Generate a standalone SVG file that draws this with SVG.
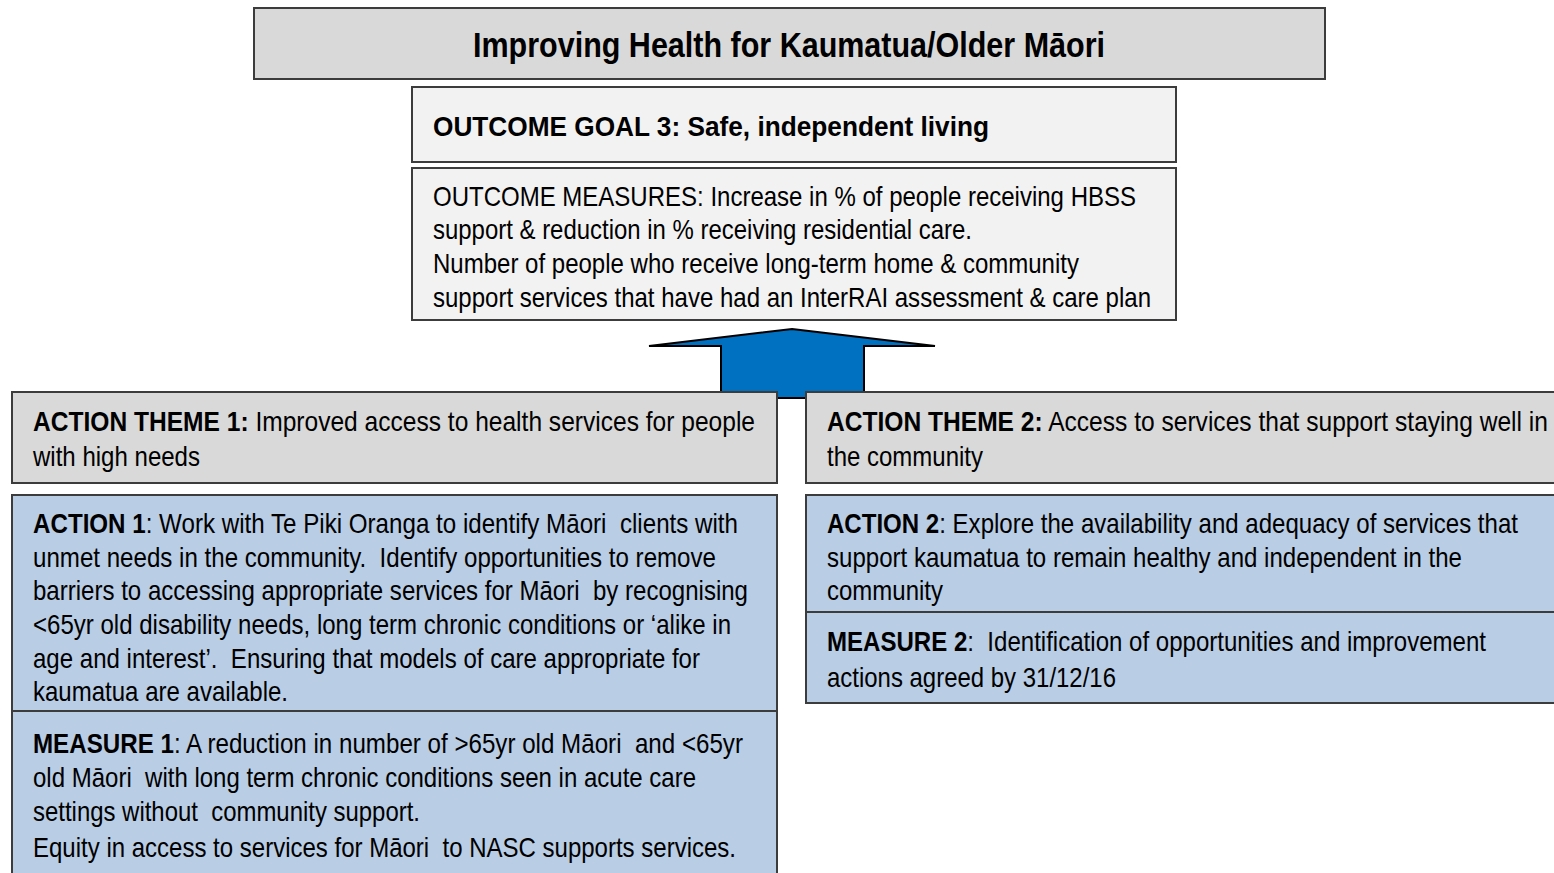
<svg xmlns="http://www.w3.org/2000/svg" width="1554" height="873" viewBox="0 0 1554 873">
  <style>
    .box { stroke: #3c3c3c; stroke-width: 2; }
    .grey { fill: #d9d9d9; }
    .pale { fill: #f2f2f2; }
    .blue { fill: #b9cde5; }
    text { font-family: "Liberation Sans Narrow", "Liberation Sans", Arial, sans-serif; fill: #000; font-size: 28px; white-space: pre; }
    .b { font-weight: bold; }
    .title { font-size: 35px; font-weight: bold; }
  </style>
  <rect width="1554" height="873" fill="#ffffff"/>

  <!-- upward arrow linking the action themes to the outcome goal -->
  <g id="connectors">
    <polygon points="792,329 935,346 864,346 864,398 721,398 721,346 649,346" fill="#0070c0" stroke="#000" stroke-width="2" stroke-linejoin="miter"/>
  </g>

  <g id="title">
    <rect class="box grey" x="254" y="8" width="1071" height="71"/>
    <text class="title" x="473" y="57" textLength="632" lengthAdjust="spacingAndGlyphs">Improving Health for Kaumatua/Older Māori</text>
  </g>

  <g id="outcome-goal">
    <rect class="box pale" x="412" y="87" width="764" height="75"/>
    <text class="b" x="433" y="136" textLength="556" lengthAdjust="spacingAndGlyphs">OUTCOME GOAL 3: Safe, independent living</text>
  </g>

  <g id="outcome-measures">
    <rect class="box pale" x="412" y="168" width="764" height="152"/>
    <text x="433" y="206" textLength="703" lengthAdjust="spacingAndGlyphs">OUTCOME MEASURES: Increase in % of people receiving HBSS</text>
    <text x="433" y="239" textLength="539" lengthAdjust="spacingAndGlyphs">support &amp; reduction in % receiving residential care.</text>
    <text x="433" y="273" textLength="646" lengthAdjust="spacingAndGlyphs">Number of people who receive long-term home &amp; community</text>
    <text x="433" y="307" textLength="718" lengthAdjust="spacingAndGlyphs">support services that have had an InterRAI assessment &amp; care plan</text>
  </g>

  <g id="action-theme-1">
    <rect class="box grey" x="12" y="392" width="765" height="91"/>
    <text x="33" y="431" textLength="722" lengthAdjust="spacingAndGlyphs"><tspan class="b">ACTION THEME 1:</tspan> Improved access to health services for people</text>
    <text x="33" y="466" textLength="167" lengthAdjust="spacingAndGlyphs">with high needs</text>
  </g>

  <g id="action-theme-2">
    <rect class="box grey" x="806" y="392" width="760" height="91"/>
    <text x="827" y="431" textLength="721" lengthAdjust="spacingAndGlyphs"><tspan class="b">ACTION THEME 2:</tspan> Access to services that support staying well in</text>
    <text x="827" y="466" textLength="156" lengthAdjust="spacingAndGlyphs">the community</text>
  </g>

  <g id="action-1">
    <rect class="box blue" x="12" y="495" width="765" height="216"/>
    <text x="33" y="533" textLength="705" lengthAdjust="spacingAndGlyphs"><tspan class="b">ACTION 1</tspan>: Work with Te Piki Oranga to identify Māori  clients with</text>
    <text x="33" y="567" textLength="683" lengthAdjust="spacingAndGlyphs">unmet needs in the community.  Identify opportunities to remove</text>
    <text x="33" y="600" textLength="715" lengthAdjust="spacingAndGlyphs">barriers to accessing appropriate services for Māori  by recognising</text>
    <text x="33" y="634" textLength="698" lengthAdjust="spacingAndGlyphs">&lt;65yr old disability needs, long term chronic conditions or ‘alike in</text>
    <text x="33" y="668" textLength="667" lengthAdjust="spacingAndGlyphs">age and interest’.  Ensuring that models of care appropriate for</text>
    <text x="33" y="701" textLength="255" lengthAdjust="spacingAndGlyphs">kaumatua are available.</text>
  </g>

  <g id="measure-1">
    <rect class="box blue" x="12" y="711" width="765" height="170"/>
    <text x="33" y="753" textLength="710" lengthAdjust="spacingAndGlyphs"><tspan class="b">MEASURE 1</tspan>: A reduction in number of &gt;65yr old Māori  and &lt;65yr</text>
    <text x="33" y="787" textLength="663" lengthAdjust="spacingAndGlyphs">old Māori  with long term chronic conditions seen in acute care</text>
    <text x="33" y="821" textLength="387" lengthAdjust="spacingAndGlyphs">settings without  community support.</text>
    <text x="33" y="857" textLength="703" lengthAdjust="spacingAndGlyphs">Equity in access to services for Māori  to NASC supports services.</text>
  </g>

  <g id="action-2">
    <rect class="box blue" x="806" y="495" width="760" height="117"/>
    <text x="827" y="533" textLength="691" lengthAdjust="spacingAndGlyphs"><tspan class="b">ACTION 2</tspan>: Explore the availability and adequacy of services that</text>
    <text x="827" y="567" textLength="635" lengthAdjust="spacingAndGlyphs">support kaumatua to remain healthy and independent in the</text>
    <text x="827" y="600" textLength="116" lengthAdjust="spacingAndGlyphs">community</text>
  </g>

  <g id="measure-2">
    <rect class="box blue" x="806" y="612" width="760" height="91"/>
    <text x="827" y="651" textLength="659" lengthAdjust="spacingAndGlyphs"><tspan class="b">MEASURE 2</tspan>:  Identification of opportunities and improvement</text>
    <text x="827" y="687" textLength="289" lengthAdjust="spacingAndGlyphs">actions agreed by 31/12/16</text>
  </g>
</svg>
